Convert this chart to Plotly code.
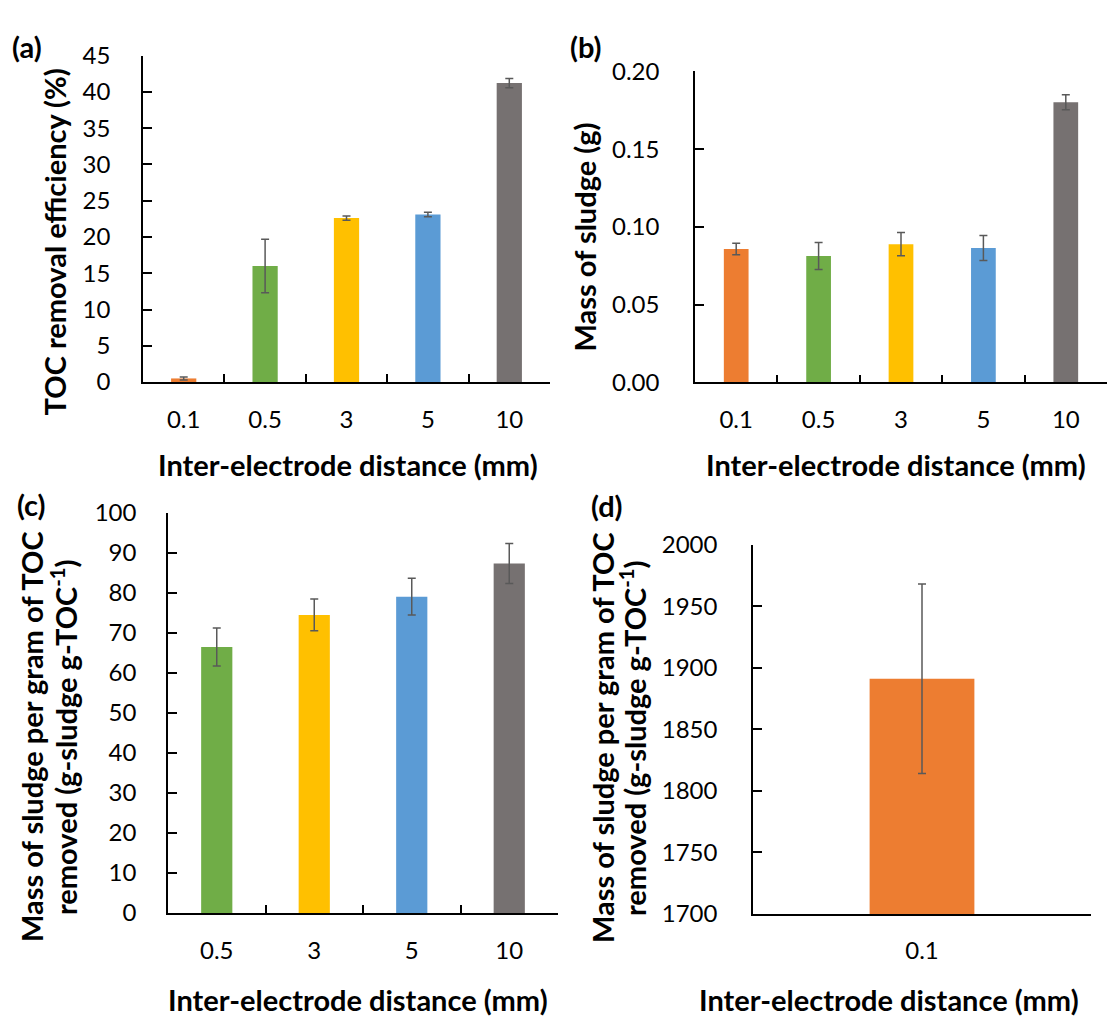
import plotly.graph_objects as go

W, H = 1107, 1028

# ---------------- data ----------------
cats_ab = ["0.1", "0.5", "3", "5", "10"]
toc_removal = [0.5, 16.0, 22.6, 23.1, 41.2]
toc_removal_err = [0.2, 3.7, 0.3, 0.3, 0.65]

sludge_mass = [0.0858, 0.0813, 0.0889, 0.0864, 0.1802]
sludge_mass_err = [0.0037, 0.0087, 0.0075, 0.0080, 0.0048]

cats_c = ["0.5", "3", "5", "10"]
sludge_per_toc = [66.4, 74.45, 79.0, 87.3]
sludge_per_toc_err = [4.75, 3.95, 4.6, 5.0]

cats_d = ["0.1"]
sludge_per_toc_d = [1891]
sludge_per_toc_d_err = [77]

colors = {"0.1": "#ED7D31", "0.5": "#70AD47", "3": "#FFC000",
          "5": "#5B9BD5", "10": "#767171"}

FONT = "Lato"
TICK_SIZE = 24
TITLE_SIZE = 29
ERR = dict(type="data", visible=True, color="#595959", thickness=1.5, width=4)


def px_x(x):
    return x / W


def px_y(y):
    return 1 - y / H


def bar(cats, vals, errs, xa, ya, width):
    return go.Bar(x=cats, y=vals, marker_color=[colors[c] for c in cats],
                  marker_line_width=0, width=width,
                  error_y=dict(ERR, array=errs), xaxis=xa, yaxis=ya,
                  showlegend=False)


fig = go.Figure()
fig.add_trace(bar(cats_ab, toc_removal, toc_removal_err, "x", "y", 0.31))
fig.add_trace(bar(cats_ab, sludge_mass, sludge_mass_err, "x2", "y2", 0.30))
fig.add_trace(bar(cats_c, sludge_per_toc, sludge_per_toc_err, "x3", "y3", 0.32))
fig.add_trace(bar(cats_d, sludge_per_toc_d, sludge_per_toc_d_err, "x4", "y4", 0.31))


def xaxis(dom, n, anchor):
    return dict(domain=[px_x(dom[0]), px_x(dom[1])], type="category",
                range=[-0.5, n - 0.5], anchor=anchor, tickson="boundaries",
                ticks="inside", ticklen=8, tickwidth=1.5, tickcolor="black",
                showline=True, linecolor="black", linewidth=1.5,
                showgrid=False, zeroline=False, fixedrange=True,
                tickfont=dict(family=FONT, size=TICK_SIZE, color="black"),
                ticklabelstandoff=15)


def yaxis(top, bottom, rng, dtick, anchor, standoff, fmt=None):
    d = dict(domain=[px_y(bottom), px_y(top)], range=rng, dtick=dtick,
             tick0=rng[0], anchor=anchor, ticks="inside", ticklen=9,
             tickwidth=1.5, tickcolor="black", showline=True,
             linecolor="black", linewidth=1.5, showgrid=False,
             zeroline=False, fixedrange=True,
             tickfont=dict(family=FONT, size=TICK_SIZE, color="black"),
             ticklabelstandoff=standoff)
    if fmt:
        d["tickformat"] = fmt
    return d


fig.update_layout(
    width=W, height=H, margin=dict(l=0, r=0, t=0, b=0),
    paper_bgcolor="white", plot_bgcolor="white",
    font=dict(family=FONT, color="black"),
    xaxis=xaxis((143, 550), 5, "y"),
    yaxis=yaxis(40.7, 376.7, [0, 45], 5, "x", 26),
    xaxis2=xaxis((695, 1107), 5, "y2"),
    yaxis2=yaxis(57, 377, [0, 0.2], 0.05, "x2", 29, ".2f"),
    xaxis3=xaxis((168, 558), 4, "y3"),
    yaxis3=yaxis(511, 923, [0, 100], 10, "x3", 25),
    xaxis4=xaxis((753, 1091), 1, "y4"),
    yaxis4=yaxis(544, 924, [1700, 2000], 50, "x4", 29),
)

ann = []


def text(x, y, s, size, angle=0, bold=True):
    ann.append(dict(x=px_x(x), y=px_y(y), xref="paper", yref="paper",
                    text=f"<b>{s}</b>" if bold else s, showarrow=False,
                    textangle=angle, xanchor="center", yanchor="middle",
                    font=dict(family=FONT, size=size, color="black")))


# panel labels
text(27, 31, "(a)", TITLE_SIZE)
text(586, 31, "(b)", TITLE_SIZE)
text(31, 503, "(c)", TITLE_SIZE)
text(607, 504, "(d)", TITLE_SIZE)

# x titles
xt = "Inter-electrode distance (mm)"
text(348, 462, xt, TITLE_SIZE)
text(896, 462, xt, TITLE_SIZE)
text(358, 1012, xt, TITLE_SIZE)
text(889, 1012, xt, TITLE_SIZE)

# y titles
text(54, 233, "TOC removal efficiency (%)", TITLE_SIZE, -90)
text(585, 228, "Mass of sludge (g)", TITLE_SIZE, -90)
text(31, 742, "Mass of sludge per gram of TOC", TITLE_SIZE, -90)
text(64, 742, "removed (g-sludge g-TOC<sup>-1</sup>)", TITLE_SIZE, -90)
text(602, 743, "Mass of sludge per gram of TOC", TITLE_SIZE, -90)
text(633, 743, "removed (g-sludge g-TOC<sup>-1</sup>)", TITLE_SIZE, -90)

fig.update_layout(annotations=ann)

fig.write_html("out.html")
